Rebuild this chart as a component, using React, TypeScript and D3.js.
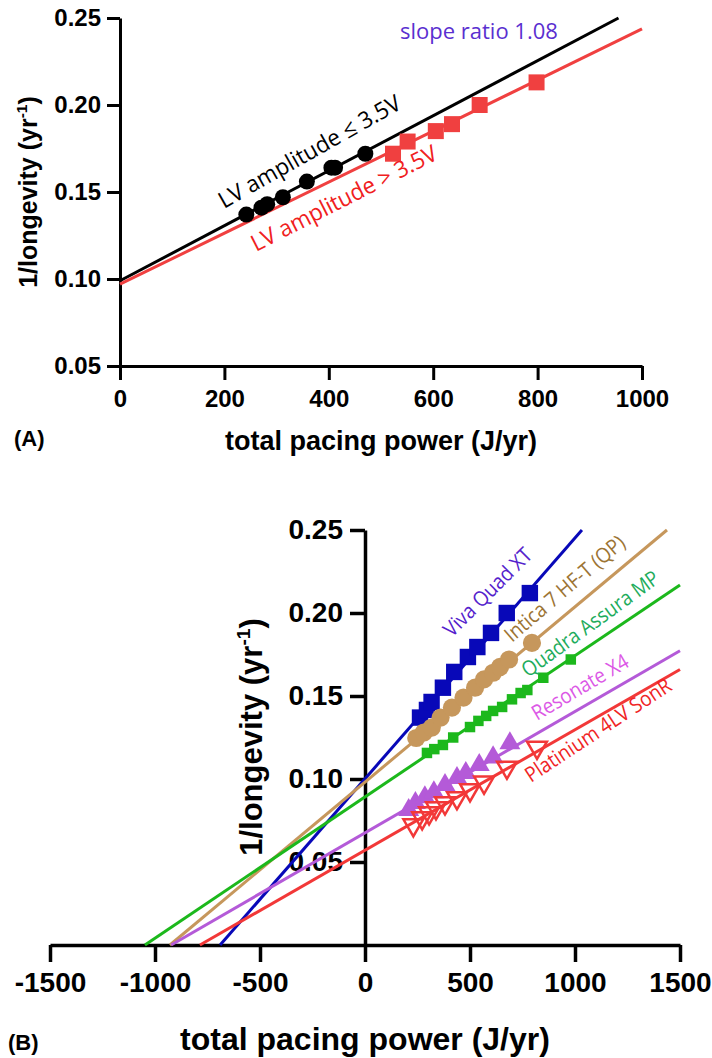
import React, { useEffect, useRef } from 'react';
import * as d3 from 'd3';

// ---- panel A: LV amplitude groups ----
const aTicksX = [0, 200, 400, 600, 800, 1000];
const aTicksY = [0.05, 0.1, 0.15, 0.2, 0.25];
const lowAmpX = [242, 271, 282, 312, 358, 405, 412, 470];
const lowAmpY = [0.137, 0.141, 0.143, 0.147, 0.156, 0.164, 0.164, 0.172];
const highAmpX = [523, 551, 605, 636, 689, 798];
const highAmpY = [0.172, 0.179, 0.185, 0.189, 0.2, 0.213];
const lowAmpFit = [[0, 0.099], [955, 0.25]];
const highAmpFit = [[0, 0.097], [1000, 0.2437]];

// ---- panel B: devices ----
const bTicksX = [-1500, -1000, -500, 0, 500, 1000, 1500];
const bTicksY = [0.05, 0.1, 0.15, 0.2, 0.25];
const vivaX = [262, 295, 317, 371, 425, 490, 535, 600, 675, 785];
const vivaY = [0.137, 0.1416, 0.1464, 0.155, 0.1645, 0.1735, 0.1795, 0.188, 0.2, 0.212];
const vivaFit = [[-690, 0], [1033, 0.25]];
const inticaX = [244, 280, 318, 360, 414, 469, 524, 567, 610, 643, 686, 795];
const inticaY = [0.1247, 0.128, 0.131, 0.137, 0.143, 0.149, 0.155, 0.16, 0.164, 0.1675, 0.172, 0.182];
const inticaFit = [[-929, 0], [1438, 0.25]];
const quadraX = [295, 330, 371, 420, 500, 540, 577, 610, 653, 700, 741, 773, 849, 980];
const quadraY = [0.1157, 0.118, 0.1205, 0.125, 0.1313, 0.135, 0.138, 0.141, 0.1434, 0.148, 0.1518, 0.1536, 0.161, 0.172];
const quadraFit = [[-1048, 0], [1500, 0.2169]];
const resonateX = [208, 240, 285, 328, 381, 438, 480, 544, 610, 690];
const resonateY = [0.0813, 0.0855, 0.089, 0.092, 0.0964, 0.1006, 0.1036, 0.1084, 0.113, 0.1215];
const resonateFit = [[-923, 0], [1500, 0.1773]];
const platX = [230, 272, 305, 338, 381, 438, 500, 567, 676, 819];
const platY = [0.0723, 0.0765, 0.0795, 0.0825, 0.0855, 0.0886, 0.0934, 0.098, 0.107, 0.119];
const platFit = [[-786, 0], [1500, 0.166]];

const AXIS_FONT = '"Liberation Sans", Arial, sans-serif';
const LABEL_FONT = '"Open Sans", sans-serif';

function styleAxis(g, size) {
  g.selectAll('path, line').attr('stroke', '#000').attr('stroke-width', 3);
  g.selectAll('text')
    .attr('fill', '#000')
    .attr('font-family', AXIS_FONT)
    .attr('font-weight', 'bold')
    .attr('font-size', size);
}

function yLabel(svg, cx, cy, size) {
  const t = svg.append('text')
    .attr('transform', `translate(${cx},${cy}) rotate(-90)`)
    .attr('text-anchor', 'middle')
    .attr('font-family', AXIS_FONT)
    .attr('font-weight', 'bold')
    .attr('font-size', size);
  t.append('tspan').text('1/longevity (yr');
  t.append('tspan').attr('dy', -size * 0.4).attr('font-size', size * 0.62).text('-1');
  t.append('tspan').attr('dy', size * 0.4).text(')');
}

// rotated annotation; sx squeezes the glyphs a little (the original used a narrow font)
function note(svg, px, py, angle, text, color, size, sx = 1) {
  svg.append('text')
    .attr('transform', `translate(${px},${py}) rotate(${angle}) scale(${sx},1)`)
    .attr('font-family', LABEL_FONT)
    .attr('font-size', size)
    .attr('fill', color)
    .text(text);
}

const plain = d => String(d);

function drawA(svg) {
  const x = d3.scaleLinear().domain([0, 1000]).range([120, 642]);
  const y = d3.scaleLinear().domain([0.05, 0.25]).range([366, 18]);
  const line = d3.line().x(d => x(d[0])).y(d => y(d[1]));

  const gx = svg.append('g').attr('transform', 'translate(0,366)')
    .call(d3.axisBottom(x).tickValues(aTicksX).tickSize(14).tickPadding(10).tickSizeOuter(0).tickFormat(plain));
  styleAxis(gx, 24);
  const gy = svg.append('g').attr('transform', 'translate(120,0)')
    .call(d3.axisLeft(y).tickValues(aTicksY).tickSize(13).tickPadding(6).tickSizeOuter(0).tickFormat(d3.format('.2f')));
  styleAxis(gy, 24);

  svg.append('path').attr('d', line(lowAmpFit)).attr('stroke', '#000').attr('stroke-width', 3).attr('fill', 'none');
  svg.append('path').attr('d', line(highAmpFit)).attr('stroke', '#f04040').attr('stroke-width', 3).attr('fill', 'none');

  svg.selectAll('circle.low').data(lowAmpX).enter().append('circle')
    .attr('cx', d => x(d)).attr('cy', (d, i) => y(lowAmpY[i])).attr('r', 8).attr('fill', '#000');
  svg.selectAll('rect.high').data(highAmpX).enter().append('rect')
    .attr('x', d => x(d) - 8).attr('y', (d, i) => y(highAmpY[i]) - 8).attr('width', 16).attr('height', 16).attr('fill', '#f04040');

  note(svg, 400, 39, 0, 'slope ratio 1.08', '#5a2fd0', 22);
  note(svg, 224, 209, -29.5, 'LV amplitude \u2264 3.5V', '#000', 23, 0.97);
  note(svg, 256, 252, -27, 'LV amplitude > 3.5V', '#f02020', 23, 0.97);

  svg.append('text').attr('x', 381).attr('y', 450).attr('text-anchor', 'middle')
    .attr('font-family', AXIS_FONT).attr('font-weight', 'bold').attr('font-size', 27).text('total pacing power (J/yr)');
  svg.append('text').attr('x', 14).attr('y', 446)
    .attr('font-family', AXIS_FONT).attr('font-weight', 'bold').attr('font-size', 22).text('(A)');
  yLabel(svg, 37, 192, 25);
}

function drawB(svg) {
  const x = d3.scaleLinear().domain([-1500, 1500]).range([50, 680]);
  const y = d3.scaleLinear().domain([0, 0.25]).range([945, 530]);
  const line = d3.line().x(d => x(d[0])).y(d => y(d[1]));

  const gx = svg.append('g').attr('transform', 'translate(0,945)')
    .call(d3.axisBottom(x).tickValues(bTicksX).tickSize(17).tickPadding(10).tickSizeOuter(0).tickFormat(plain));
  styleAxis(gx, 28);
  gx.selectAll('path, line').attr('stroke-width', 3.5);
  const gy = svg.append('g').attr('transform', 'translate(365,0)')
    .call(d3.axisLeft(y).tickValues(bTicksY).tickSize(15).tickPadding(7).tickSizeOuter(0).tickFormat(d3.format('.2f')));
  styleAxis(gy, 28);
  gy.selectAll('path, line').attr('stroke-width', 3.5);
  yLabel(svg, 262, 737, 31);

  const series = [
    { xs: vivaX, ys: vivaY, fit: vivaFit, color: '#0808b8', shape: 'square' },
    { xs: inticaX, ys: inticaY, fit: inticaFit, color: '#c6975c', shape: 'circle' },
    { xs: quadraX, ys: quadraY, fit: quadraFit, color: '#1cb81c', shape: 'small' },
    { xs: resonateX, ys: resonateY, fit: resonateFit, color: '#b45ad8', shape: 'up' },
    { xs: platX, ys: platY, fit: platFit, color: '#f23838', shape: 'down' },
  ];

  series.forEach(s => {
    svg.append('path').attr('d', line(s.fit)).attr('stroke', s.color).attr('stroke-width', 3).attr('fill', 'none');
  });

  series.forEach(s => {
    const g = svg.append('g');
    const pts = s.xs.map((v, i) => [v, s.ys[i]]);
    const at = d => `translate(${x(d[0])},${y(d[1])})`;
    if (s.shape === 'square') {
      g.selectAll('path').data(pts).enter().append('path')
        .attr('d', d3.symbol(d3.symbolSquare, 270)()).attr('transform', at).attr('fill', s.color);
    } else if (s.shape === 'circle') {
      g.selectAll('path').data(pts).enter().append('path')
        .attr('d', d3.symbol(d3.symbolCircle, 260)()).attr('transform', at).attr('fill', s.color);
    } else if (s.shape === 'small') {
      g.selectAll('path').data(pts).enter().append('path')
        .attr('d', d3.symbol(d3.symbolSquare, 110)()).attr('transform', at).attr('fill', s.color);
    } else if (s.shape === 'up') {
      g.selectAll('path').data(pts).enter().append('path')
        .attr('d', d3.symbol(d3.symbolTriangle, 190)()).attr('transform', at).attr('fill', s.color);
    } else {
      g.selectAll('path').data(pts).enter().append('path')
        .attr('d', d3.symbol(d3.symbolTriangle, 170)())
        .attr('transform', d => `${at(d)} rotate(180)`)
        .attr('fill', 'none').attr('stroke', s.color).attr('stroke-width', 2.5);
    }
  });

  note(svg, 452, 638, -45, 'Viva Quad XT', '#5422cc', 21, 0.9);
  note(svg, 512, 643, -40.5, 'Intica 7 HF-T (QP)', '#9c7434', 21, 0.9);
  note(svg, 528, 678, -36, 'Quadra Assura MP', '#1eac5c', 21, 0.9);
  note(svg, 537, 721, -30.5, 'Resonate X4', '#dc58e6', 21, 0.9);
  note(svg, 531, 783, -33.4, 'Platinium 4LV SonR', '#f02424', 21, 0.9);

  svg.append('text').attr('x', 365).attr('y', 1050).attr('text-anchor', 'middle')
    .attr('font-family', AXIS_FONT).attr('font-weight', 'bold').attr('font-size', 32).text('total pacing power (J/yr)');
  svg.append('text').attr('x', 8).attr('y', 1050)
    .attr('font-family', AXIS_FONT).attr('font-weight', 'bold').attr('font-size', 22).text('(B)');
}

export default function App() {
  const ref = useRef(null);
  useEffect(() => {
    const svg = d3.select(ref.current);
    svg.selectAll('*').remove();
    drawA(svg);
    drawB(svg);
  }, []);
  return (
    <svg ref={ref} width={712} height={1058}
      style={{ position: 'absolute', left: 0, top: 0, background: '#fff' }} />
  );
}
